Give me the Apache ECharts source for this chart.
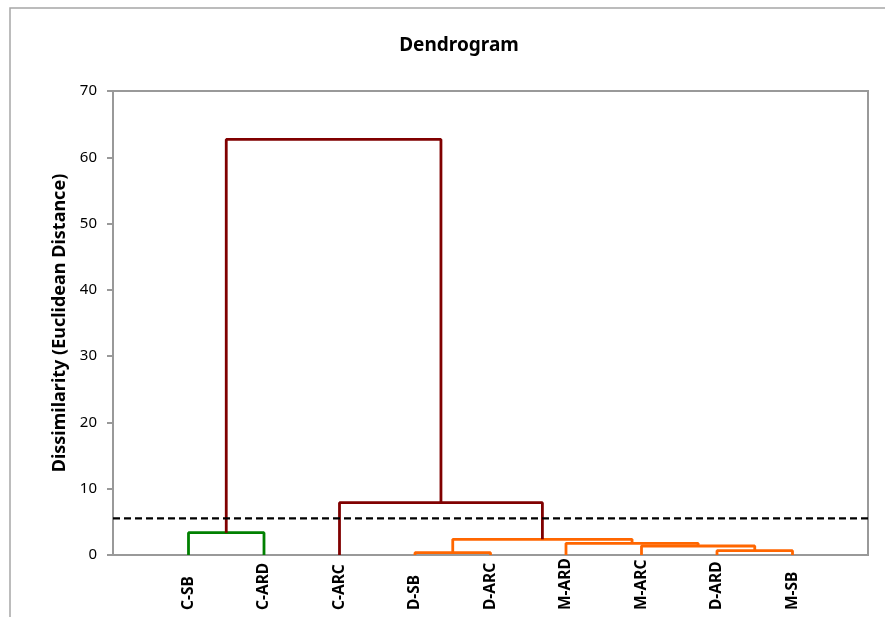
<!DOCTYPE html>
<html>
<head>
<meta charset="utf-8">
<title>Dendrogram</title>
<script src="https://cdn.jsdelivr.net/npm/echarts@6/dist/echarts.min.js"></script>
<style>
  html, body { margin: 0; padding: 0; background: #fff; }
  #chart { width: 885px; height: 617px; }
</style>
</head>
<body>
<div id="chart"></div>
<script>
// Leaves in display order (x positions 1..9)
const leaves = ['C-SB', 'C-ARD', 'C-ARC', 'D-SB', 'D-ARC', 'M-ARD', 'M-ARC', 'D-ARD', 'M-SB'];

// Agglomerative merges: left node, right node, dissimilarity.
// Node ids 0..8 are leaves; each merge creates node 9, 10, ...
const mergeLeft   = [3, 7, 6, 5, 9, 0, 2, 14];
const mergeRight  = [4, 8, 10, 11, 12, 1, 13, 15];
const mergeHeight = [0.35, 0.65, 1.36, 1.76, 2.37, 3.37, 7.89, 62.7];

// Truncation level
const cutHeight = 5.53;

// Y axis ticks
const yTicks = [0, 10, 20, 30, 40, 50, 60, 70];

const clusterPalette = ['#008000', '#FF6600'];
const aboveCutColor = '#800000';
const FONT = '"Noto Sans", "Open Sans", sans-serif';

// Node positions
const nodeX = leaves.map((_, i) => i + 1);
const nodeY = leaves.map(() => 0);
mergeLeft.forEach((l, k) => {
  const r = mergeRight[k];
  nodeX.push((nodeX[l] + nodeX[r]) / 2);
  nodeY.push(mergeHeight[k]);
});

// Colour each merge below the cut by its cluster (top-most merge below the cut)
const nLeaves = leaves.length;
const parentOf = {};
mergeLeft.forEach((l, k) => { parentOf[l] = nLeaves + k; parentOf[mergeRight[k]] = nLeaves + k; });
function clusterRoot(node) {
  let n = node;
  while (parentOf[n] !== undefined && nodeY[parentOf[n]] < cutHeight) n = parentOf[n];
  return n;
}
const rootColor = {};
const belowRoots = [];
mergeHeight.forEach((h, k) => {
  if (h < cutHeight) {
    const r = clusterRoot(nLeaves + k);
    if (!belowRoots.includes(r)) belowRoots.push(r);
  }
});
belowRoots.sort((a, b) => nodeX[a] - nodeX[b]);
belowRoots.forEach((r, i) => { rootColor[r] = clusterPalette[i % clusterPalette.length]; });

const series = mergeLeft.map((l, k) => {
  const r = mergeRight[k];
  const h = mergeHeight[k];
  const color = h < cutHeight ? rootColor[clusterRoot(nLeaves + k)] : aboveCutColor;
  return {
    type: 'line',
    symbol: 'none',
    silent: true,
    z: 3,
    lineStyle: { color: color, width: 2.8 },
    data: [[nodeX[l], nodeY[l]], [nodeX[l], h], [nodeX[r], h], [nodeX[r], nodeY[r]]]
  };
});

series.push({
  type: 'line',
  symbol: 'none',
  silent: true,
  z: 4,
  lineStyle: { color: '#000', width: 2.2, type: [7, 4] },
  data: [[0, cutHeight], [leaves.length + 1, cutHeight]]
});

const chart = echarts.init(document.getElementById('chart'));
chart.setOption({
  animation: false,
  backgroundColor: '#fff',
  title: {
    text: 'Dendrogram',
    left: 454,
    top: 31,
    textAlign: 'center',
    textStyle: { fontFamily: FONT, fontSize: 19, fontWeight: 'bold', color: '#000' }
  },
  graphic: [{
    type: 'rect',
    shape: { x: 10, y: 8, width: 900, height: 700 },
    style: { fill: 'none', stroke: '#a6a6a6', lineWidth: 1.5 },
    silent: true,
    z: -10
  }],
  grid: {
    left: 113, right: 17, top: 91, bottom: 62,
    show: true, borderColor: '#999', borderWidth: 2, backgroundColor: 'transparent'
  },
  xAxis: {
    type: 'value',
    min: 0,
    max: leaves.length + 1,
    interval: 1,
    splitLine: { show: false },
    axisTick: { show: false },
    axisLine: { show: true, lineStyle: { color: '#999', width: 2 } },
    axisLabel: {
      rotate: 90,
      align: 'left',
      margin: 55,
      fontFamily: FONT,
      fontSize: 15.5,
      fontWeight: 'bold',
      color: '#000',
      formatter: v => (v >= 1 && v <= leaves.length && Number.isInteger(v)) ? leaves[v - 1] : ''
    }
  },
  yAxis: {
    type: 'value',
    min: yTicks[0],
    max: yTicks[yTicks.length - 1],
    interval: yTicks[1] - yTicks[0],
    name: 'Dissimilarity (Euclidean Distance)',
    nameLocation: 'middle',
    nameGap: 43,
    nameTextStyle: { fontFamily: FONT, fontSize: 18, fontWeight: 'bold', color: '#000' },
    splitLine: { show: false },
    axisLine: { show: true, lineStyle: { color: '#999', width: 2 } },
    axisTick: { show: true, inside: false, length: 6, lineStyle: { color: '#999', width: 2 } },
    axisLabel: {
      margin: 16,
      fontFamily: FONT,
      fontSize: 15,
      color: '#000',
      formatter: v => yTicks.includes(v) ? String(v) : ''
    }
  },
  series: series
});
</script>
</body>
</html>
